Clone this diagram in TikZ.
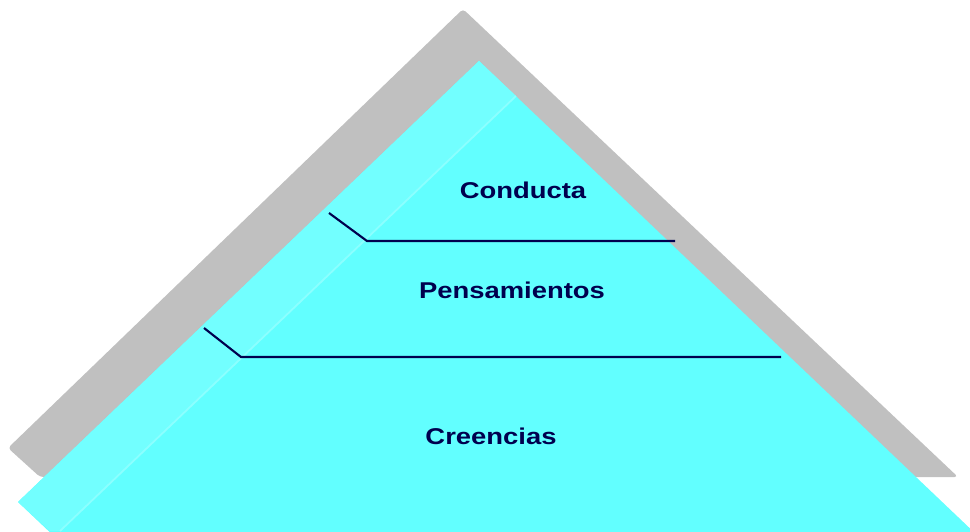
\documentclass[tikz,border=0pt]{standalone}
\usepackage{fontspec}
\setmainfont{Liberation Sans}
\usetikzlibrary{positioning}
\definecolor{shadowgray}{HTML}{C0C0C0}
\definecolor{facecyan}{HTML}{62FFFF}
\definecolor{sidecyan}{HTML}{72FFFF}
\definecolor{edgecyan}{HTML}{8CFFFF}
\definecolor{inknavy}{HTML}{00004E}

\begin{document}
\begin{tikzpicture}[x=0.02cm, y=-0.02cm,
    level/.style={font=\fontsize{13}{15}\selectfont\bfseries, text=inknavy, inner sep=0pt, xscale=1.2},
    divider/.style={draw=inknavy, line width=1.2pt}]
    \useasboundingbox (0,0) rectangle (970,531);
    \clip (0,0) rectangle (970,531);

    % shadow
    \fill[shadowgray, rounded corners=2pt] (463,9) -- (958,477) -- (40,477) -- (8,448) -- cycle;

    % pyramid
    \fill[facecyan] (479,61) -- (1000,557) -- (76,557) -- (18,502) -- cycle;
    \fill[sidecyan] (479,61) -- (516,96) -- (60,531) -- (50,531) -- (18,502) -- cycle;
    \draw[edgecyan, line width=1pt] (516,96) -- (60,531);

    \coordinate (c1) at (329,213);
    \coordinate (k1) at (367,241);
    \coordinate (e1) at (675,241);
    \coordinate (c2) at (204,328);
    \coordinate (k2) at (241,357);
    \coordinate (e2) at (781,357);
    \draw[divider] (c1) -- (k1) -- (e1);
    \draw[divider] (c2) -- (k2) -- (e2);

    \node[level] (conducta) at (523,190) {Conducta};
    \node[level] (pensamientos) at (512,290) {Pensamientos};
    \node[level] (creencias) at (491,436) {Creencias};
\end{tikzpicture}
\end{document}
